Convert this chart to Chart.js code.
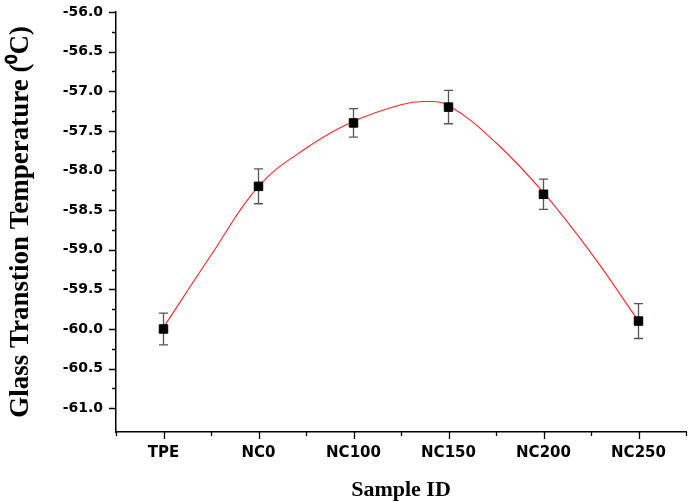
<!DOCTYPE html>
<html>
<head>
<meta charset="utf-8">
<script src="https://cdn.jsdelivr.net/npm/chart.js@4/dist/chart.umd.min.js"></script>
<style>
  html, body { margin: 0; padding: 0; background: #fff; overflow: hidden; }
  #wrap { width: 688px; height: 502px; position: relative; }
  canvas { display: block; }
</style>
</head>
<body>
<div id="wrap"><canvas id="c"></canvas></div>
<script>
const categories = ['TPE', 'NC0', 'NC100', 'NC150', 'NC200', 'NC250'];
const tgValues = [-60.0, -58.2, -57.4, -57.2, -58.3, -59.9];
const tgErrors = [0.2, 0.22, 0.18, 0.21, 0.19, 0.22];
const fitX = [0, 0.5, 1.0, 1.5, 2.0, 2.5, 2.75, 3.0, 3.5, 4.0, 4.5, 5.0];
const fitY = [-59.98, -59.07, -58.2, -57.72, -57.38, -57.17, -57.13, -57.18, -57.65, -58.28, -59.04, -59.9];
const yMin = -61.3, yMax = -56.0, yStep = 0.25;
const xMin = -0.5, xMax = 5.5, xStep = 0.5;

const pointData = tgValues.map((v, i) => ({ x: i, y: v }));
const fitData = fitX.map((x, i) => ({ x: x, y: fitY[i] }));

const isMultiple = (v, s) => Math.abs(v / s - Math.round(v / s)) < 1e-6;

const errorBars = {
  id: 'errorBars',
  beforeDatasetsDraw(chart) {
    const ctx = chart.ctx, xs = chart.scales.x, ys = chart.scales.y;
    ctx.save();
    ctx.strokeStyle = '#555';
    ctx.lineWidth = 1.3;
    tgValues.forEach((v, i) => {
      const px = xs.getPixelForValue(i);
      const top = ys.getPixelForValue(v + tgErrors[i]);
      const bot = ys.getPixelForValue(v - tgErrors[i]);
      ctx.beginPath();
      ctx.moveTo(px, top); ctx.lineTo(px, bot);
      ctx.moveTo(px - 4.5, top); ctx.lineTo(px + 4.5, top);
      ctx.moveTo(px - 4.5, bot); ctx.lineTo(px + 4.5, bot);
      ctx.stroke();
    });
    ctx.restore();
  }
};

const tickMarks = {
  id: 'tickMarks',
  afterDraw(chart) {
    const ctx = chart.ctx, xs = chart.scales.x, ys = chart.scales.y;
    const area = chart.chartArea;
    ctx.save();
    ctx.strokeStyle = '#000';
    ctx.lineWidth = 1.3;
    ctx.beginPath();
    ys.ticks.forEach(t => {
      if (!isMultiple(t.value, yStep)) return;
      const py = Math.round(ys.getPixelForValue(t.value)) + 0.5;
      const len = isMultiple(t.value, 0.5) ? 7 : 4;
      ctx.moveTo(area.left, py); ctx.lineTo(area.left - len, py);
    });
    xs.ticks.forEach(t => {
      const px = Math.round(xs.getPixelForValue(t.value)) + 0.5;
      const len = isMultiple(t.value, 1) ? 7 : 4;
      ctx.moveTo(px, area.bottom); ctx.lineTo(px, area.bottom + len);
    });
    ctx.stroke();
    ctx.restore();
  }
};

new Chart(document.getElementById('c'), {
  type: 'scatter',
  data: {
    datasets: [
      {
        label: 'Fit',
        data: fitData,
        showLine: true,
        tension: 0.4,
        borderColor: 'rgb(255,35,35)',
        borderWidth: 1.1,
        pointRadius: 0,
        order: 2
      },
      {
        label: 'Tg',
        data: pointData,
        showLine: false,
        pointStyle: 'rect',
        pointRadius: 6,
        pointBackgroundColor: '#000',
        pointBorderColor: '#000',
        pointBorderWidth: 1,
        order: 1
      }
    ]
  },
  options: {
    responsive: true,
    maintainAspectRatio: false,
    animation: false,
    devicePixelRatio: 1,
    layout: { autoPadding: false, padding: { top: 12, right: 2, left: 0, bottom: 0 } },
    plugins: { legend: { display: false }, tooltip: { enabled: false } },
    scales: {
      x: {
        type: 'linear',
        min: xMin, max: xMax,
        afterFit(scale) { scale.height = 70; scale.paddingLeft = 0; scale.paddingRight = 0; },
        grid: { display: false, drawTicks: false, tickLength: 0 },
        border: { display: true, color: '#000', width: 1.5 },
        ticks: {
          stepSize: xStep,
          autoSkip: false,
          maxRotation: 0,
          padding: 12,
          color: '#000',
          font: { family: 'DejaVu Sans', weight: 'bold', size: 15 },
          callback: (v) => isMultiple(v, 1) && v >= 0 && v < categories.length ? categories[Math.round(v)] : ''
        },
        title: {
          display: true,
          text: 'Sample ID',
          color: '#000',
          font: { family: 'Liberation Serif', weight: 'bold', size: 22, lineHeight: 1 },
          padding: { top: 0, bottom: 1 }
        }
      },
      y: {
        type: 'linear',
        min: yMin, max: yMax,
        afterFit(scale) { scale.width = 116; scale.paddingTop = 0; scale.paddingBottom = 0; },
        grid: { display: false, drawTicks: false, tickLength: 0 },
        border: { display: true, color: '#000', width: 1.5 },
        ticks: {
          stepSize: yStep,
          autoSkip: false,
          padding: 13,
          color: '#000',
          font: { family: 'DejaVu Sans', weight: 'bold', size: 14 },
          callback: (v) => isMultiple(v, 0.5) ? v.toFixed(1) : ''
        },
        title: {
          display: true,
          text: 'Glass Transtion Temperature (\u2070C)',
          color: '#000',
          font: { family: 'Liberation Serif', weight: 'bold', size: 27, lineHeight: 1 },
          padding: { top: 8, bottom: 0 }
        }
      }
    }
  },
  plugins: [errorBars, tickMarks]
});
</script>
</body>
</html>
